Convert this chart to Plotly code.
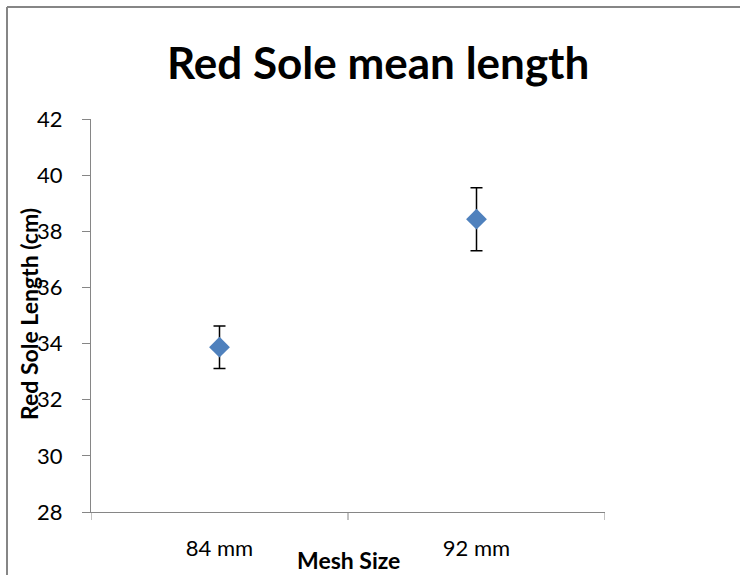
import plotly.graph_objects as go

categories = ["84 mm", "92 mm"]
mean_length = [33.87, 38.43]
error = [0.76, 1.12]
y_ticks = [28, 30, 32, 34, 36, 38, 40, 42]

W, H = 740, 575
PX0, PX1, PY0, PY1 = 91, 605, 119, 512  # plot area in page pixels
L = PX0
R = W - PX1
T = PY0
B = H - PY1
pw = PX1 - PX0
ph = PY1 - PY0

def px_x(x):
    return (x - PX0) / pw

def px_y(y):
    return (PY1 - y) / ph

fig = go.Figure()
fig.add_trace(go.Scatter(
    x=[0, 1], y=mean_length, mode="markers",
    marker=dict(symbol="diamond", size=16, color="#4F81BD"),
    error_y=dict(type="data", array=error, visible=True, color="black", thickness=1.5, width=6),
    showlegend=False,
))

axcol = "#868686"
fig.update_layout(
    width=W, height=H,
    margin=dict(l=L, r=R, t=T, b=B),
    plot_bgcolor="white", paper_bgcolor="white",
    font=dict(family="Lato, 'Open Sans', sans-serif", color="black", size=22),
    xaxis=dict(range=[-0.5, 1.5], tickvals=[0, 1], ticktext=categories,
               showgrid=False, zeroline=False, showline=True, linecolor=axcol, linewidth=1,
               ticks="", tickfont=dict(size=22), ticklabelstandoff=17),
    yaxis=dict(range=[28, 42], tickvals=y_ticks, showgrid=False, zeroline=False,
               showline=True, linecolor=axcol, linewidth=1, ticks="outside", ticklen=8,
               tickcolor=axcol, tickfont=dict(size=22), ticklabelstandoff=15),
)

fig.add_annotation(text="<b>Red Sole mean length</b>", xref="paper", yref="paper",
                   x=px_x(378), y=px_y(62), xanchor="center", yanchor="middle",
                   showarrow=False, font=dict(size=44))

# category boundary ticks on x axis
for xv in [-0.5, 0.5, 1.5]:
    fig.add_shape(type="line", xref="x", yref="paper", x0=xv, x1=xv, y0=0, y1=px_y(PY1 + 8),
                  line=dict(color=axcol, width=1))

fig.add_annotation(text="<b>Mesh Size</b>", xref="paper", yref="paper",
                   x=0.5, y=px_y(560), xanchor="center", yanchor="middle",
                   showarrow=False, font=dict(size=23))
fig.add_annotation(text="<b>Red Sole Length (cm)</b>", xref="paper", yref="paper",
                   x=px_x(29), y=px_y(314), xanchor="center", yanchor="middle",
                   textangle=-90, showarrow=False, font=dict(size=23))

# outer chart border (top and left edges visible)
fig.add_shape(type="line", xref="paper", yref="paper",
              x0=px_x(7), x1=px_x(760), y0=px_y(7), y1=px_y(7),
              line=dict(color=axcol, width=2), layer="below")
fig.add_shape(type="line", xref="paper", yref="paper",
              x0=px_x(7), x1=px_x(7), y0=px_y(7), y1=px_y(620),
              line=dict(color=axcol, width=2), layer="below")

fig.write_html("out.html", config={"displayModeBar": False},
               post_script="document.body.style.margin='0';document.body.style.overflow='hidden';")
